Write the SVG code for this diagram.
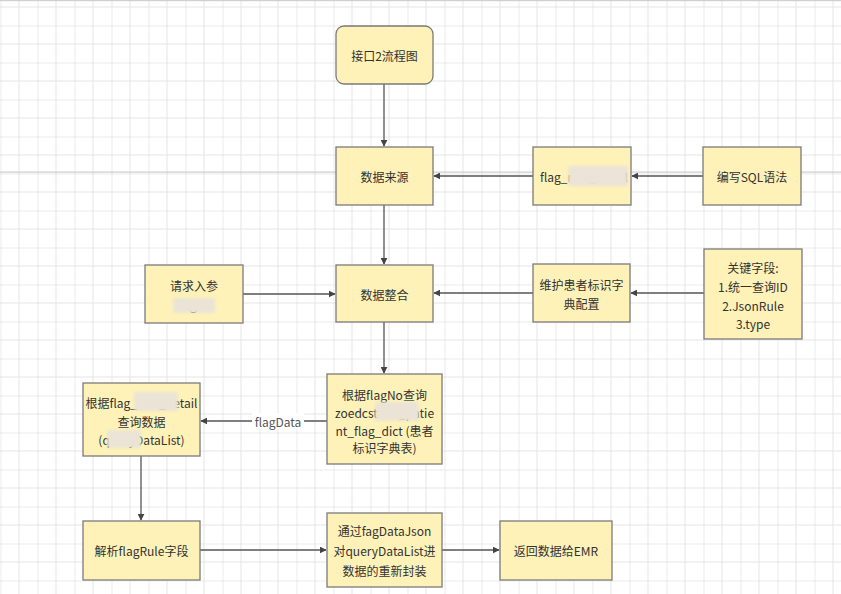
<svg xmlns="http://www.w3.org/2000/svg" width="841" height="594" viewBox="0 0 841 594">
<style>
.box{fill:#fef2b8;stroke:#7a7a7a;stroke-width:1.3}
.t{font-family:"Noto Sans CJK SC","Liberation Sans",sans-serif;font-size:12px;fill:#333;text-anchor:middle;dominant-baseline:central}
.tl{text-anchor:start}
.c{fill:none;stroke:#555;stroke-width:1.3}
.blur{fill:#ebe4d6;filter:url(#bl)}
</style>
<defs>
<pattern id="grid" patternUnits="userSpaceOnUse" x="0.5" y="25.5" width="37" height="37">
<path d="M18.5 0V37M0 18.5H37" stroke="#e4e4e4" stroke-width="1" fill="none"/>
<path d="M0 0V37M0 0H37" stroke="#d6d6d6" stroke-width="1" fill="none"/>
</pattern>
<marker id="ah" viewBox="0 0 10 10" refX="9" refY="5" markerWidth="7" markerHeight="7" orient="auto" markerUnits="userSpaceOnUse">
<path d="M0 0L10 5L0 10Z" fill="#444"/>
</marker>
<filter id="bl" x="-20%" y="-50%" width="140%" height="200%"><feGaussianBlur stdDeviation="1.5"/></filter>
</defs>
<rect width="841" height="594" fill="#fff"/>
<rect width="841" height="594" fill="url(#grid)"/>
<rect x="0" y="0" width="841" height="1.2" fill="#cfcfcf"/>
<rect x="0" y="171.6" width="841" height="1" fill="#c4c4c4"/>

<g id="connectors">
<path class="c" d="M384 84V146" marker-end="url(#ah)"/>
<path class="c" d="M384 205V264" marker-end="url(#ah)"/>
<path class="c" d="M533 176H434" marker-end="url(#ah)"/>
<path class="c" d="M703 176H632" marker-end="url(#ah)"/>
<path class="c" d="M243 294H335" marker-end="url(#ah)"/>
<path class="c" d="M533 293H434" marker-end="url(#ah)"/>
<path class="c" d="M704 293H631" marker-end="url(#ah)"/>
<path class="c" d="M384 322V373" marker-end="url(#ah)"/>
<path class="c" d="M327 421H201" marker-end="url(#ah)"/>
<rect x="252" y="413" width="52" height="16" fill="#fff"/>
<text class="t" x="278" y="421" style="fill:#555">flagData</text>
<path class="c" d="M141 456V520" marker-end="url(#ah)"/>
<path class="c" d="M200 550H326" marker-end="url(#ah)"/>
<path class="c" d="M442 550H499" marker-end="url(#ah)"/>
</g>

<g id="start">
<rect class="box" x="336" y="26" width="97" height="58" rx="8"/>
<text class="t" x="384.5" y="55">接口2流程图</text>
</g>
<g id="datasource">
<rect class="box" x="336" y="147" width="97" height="58"/>
<text class="t" x="384.5" y="176">数据来源</text>
</g>
<g id="flagtable">
<rect class="box" x="533" y="147" width="98" height="58"/>
<text class="t tl" x="540" y="176">flag_rule_detail</text>
<rect class="blur" x="568" y="166" width="60" height="20"/>
</g>
<g id="sql">
<rect class="box" x="703" y="147" width="98" height="58"/>
<text class="t" x="752" y="176">编写SQL语法</text>
</g>
<g id="request">
<rect class="box" x="145" y="265" width="98" height="58"/>
<text class="t" x="194" y="285">请求入参</text>
<text class="t" x="194" y="304">flagNo</text>
<rect class="blur" x="173" y="298" width="42" height="15"/>
</g>
<g id="integrate">
<rect class="box" x="336" y="265" width="97" height="57"/>
<text class="t" x="384.5" y="294">数据整合</text>
</g>
<g id="maintain">
<rect class="box" x="533" y="264" width="97" height="58"/>
<text class="t" x="581.5" y="284">维护患者标识字</text>
<text class="t" x="581.5" y="303">典配置</text>
</g>
<g id="keyfields">
<rect class="box" x="704" y="249" width="98" height="90"/>
<text class="t" x="753" y="267">关键字段:</text>
<text class="t" x="753" y="286">1.统一查询ID</text>
<text class="t" x="753" y="305">2.JsonRule</text>
<text class="t" x="753" y="323">3.type</text>
</g>
<g id="query">
<rect class="box" x="327" y="374" width="115" height="90"/>
<text class="t" x="384.5" y="394">根据flagNo查询</text>
<text class="t" x="384.5" y="412">zoedcstand_patie</text>
<rect class="blur" x="375" y="402" width="44" height="19"/>
<text class="t" x="384.5" y="430">nt_flag_dict (患者</text>
<text class="t" x="384.5" y="447">标识字典表)</text>
</g>
<g id="detail">
<rect class="box" x="83" y="383" width="117" height="73"/>
<text class="t" x="141.5" y="402">根据flag_rule_detail</text>
<rect class="blur" x="134" y="392" width="44" height="19"/>
<text class="t" x="141.5" y="421">查询数据</text>
<text class="t" x="141.5" y="439">(queryDataList)</text>
<rect class="blur" x="107" y="430" width="34" height="18"/>
</g>
<g id="parse">
<rect class="box" x="83" y="521" width="117" height="59"/>
<text class="t" x="141.5" y="550">解析flagRule字段</text>
</g>
<g id="wrap">
<rect class="box" x="327" y="513" width="115" height="74"/>
<text class="t" x="384.5" y="530">通过fagDataJson</text>
<text class="t" x="384.5" y="550">对queryDataList进</text>
<text class="t" x="384.5" y="570">数据的重新封装</text>
</g>
<g id="return">
<rect class="box" x="500" y="521" width="112" height="59"/>
<text class="t" x="556" y="550">返回数据给EMR</text>
</g>
</svg>
